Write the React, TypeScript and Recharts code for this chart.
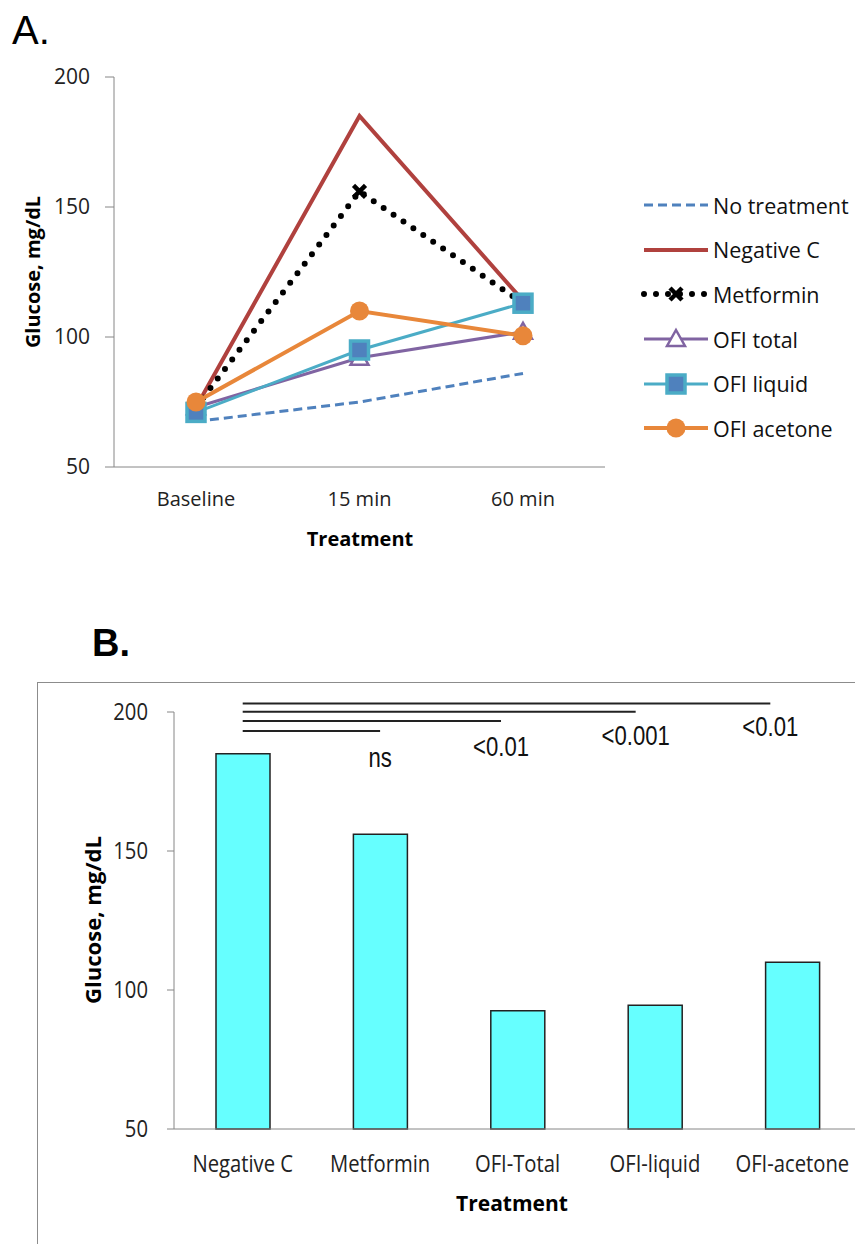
import React from "react";
import {
  Bar,
  BarChart,
  Line,
  LineChart,
  ReferenceDot,
  ReferenceLine,
  XAxis,
  YAxis,
} from "recharts";

// panel A: glucose over time
const timePoints = ["Baseline", "15 min", "60 min"];
const noTreatment = [67.5, 75, 86];
const negativeC = [73, 185, 114];
const metformin = [73, 156, 113];
const ofiTotal = [73, 92, 102];
const ofiLiquid = [71, 95, 113];
const ofiAcetone = [75, 110, 100.5];
const glucoseTicks = [50, 100, 150, 200];

// panel B: glucose at 15 min
const treatments = ["Negative C", "Metformin", "OFI-Total", "OFI-liquid", "OFI-acetone"];
const glucose15 = [185, 156, 92.5, 94.5, 110];

// significance brackets vs Negative C
const sigEnds = [1.0, 1.88, 2.86, 3.84];
const sigLevels = [193.2, 196.8, 200.1, 203.1];
const sigLabels = ["ns", "<0.01", "<0.001", "<0.01"];
const sigLabelY = [183.8, 187.4, 191.7, 194.6];

const AXIS = "#868686";
const SANS = "'Open Sans', 'Noto Sans', sans-serif";
const ARIAL = "'Liberation Sans', Arial, sans-serif";

const lineData = timePoints.map((t, i) => ({
  t,
  none: noTreatment[i],
  neg: negativeC[i],
  met: metformin[i],
  total: ofiTotal[i],
  liquid: ofiLiquid[i],
  acetone: ofiAcetone[i],
}));

const barData = treatments.map((name, i) => ({ idx: i, name, value: glucose15[i] }));

type DotProps = { cx?: number; cy?: number; index?: number };

const XMark = ({ cx = 0, cy = 0, index }: DotProps) => (
  <path
    key={`x-${index}`}
    d={`M${cx - 6},${cy - 6}L${cx + 6},${cy + 6}M${cx + 6},${cy - 6}L${cx - 6},${cy + 6}`}
    stroke="#000"
    strokeWidth={4.5}
  />
);

const Triangle = ({ cx = 0, cy = 0, index }: DotProps) => (
  <polygon
    key={`t-${index}`}
    points={`${cx},${cy - 9} ${cx + 9},${cy + 7} ${cx - 9},${cy + 7}`}
    fill="#fff"
    stroke="#8064A2"
    strokeWidth={2.5}
  />
);

const Square = ({ cx = 0, cy = 0, index }: DotProps) => (
  <rect
    key={`s-${index}`}
    x={cx - 9}
    y={cy - 9}
    width={18}
    height={18}
    fill="#4F81BD"
    stroke="#4BACC6"
    strokeWidth={3.5}
  />
);

const Round = ({ cx = 0, cy = 0, index }: DotProps) => (
  <circle key={`c-${index}`} cx={cx} cy={cy} r={9.5} fill="#E8873A" />
);

type Series = {
  key: string;
  name: string;
  color: string;
  width: number;
  dash?: string;
  cap?: "round" | "butt";
  dot: ((p: DotProps) => React.ReactElement) | false;
};

const series: Series[] = [
  { key: "none", name: "No treatment", color: "#4F81BD", width: 3, dash: "9 5", dot: false },
  { key: "neg", name: "Negative C", color: "#B0413E", width: 4, dot: false },
  { key: "met", name: "Metformin", color: "#000", width: 6, dash: "0 12", cap: "round", dot: XMark },
  { key: "total", name: "OFI total", color: "#8064A2", width: 3, dot: Triangle },
  { key: "liquid", name: "OFI liquid", color: "#4BACC6", width: 3, dot: Square },
  { key: "acetone", name: "OFI acetone", color: "#E8873A", width: 4, dot: Round },
];

// narrow-looking tick text for panel B
const NarrowTick = (props: any) => {
  const { x, y, payload, anchor, dy, fmt } = props;
  const label = fmt ? fmt(payload.value) : payload.value;
  return (
    <text
      transform={`translate(${x},${y}) scale(0.88,1)`}
      textAnchor={anchor}
      dy={dy}
      fontSize={23}
      fontFamily={SANS}
      fill="#222"
    >
      {label}
    </text>
  );
};

function LegendA() {
  return (
    <div style={{ position: "absolute", left: 640, top: 183 }}>
      {series.map((s) => (
        <div key={s.key} style={{ display: "flex", alignItems: "center", height: 44.6 }}>
          <svg width={72} height={24}>
            <line
              x1={4}
              y1={12}
              x2={68}
              y2={12}
              stroke={s.color}
              strokeWidth={s.width}
              strokeDasharray={s.dash}
              strokeLinecap={s.cap ?? "butt"}
            />
            {s.dot ? s.dot({ cx: 36, cy: 12, index: 0 }) : null}
          </svg>
          <span style={{ fontFamily: SANS, fontSize: 21.5, color: "#111", marginLeft: 1 }}>{s.name}</span>
        </div>
      ))}
    </div>
  );
}

export default function App() {
  return (
    <div
      style={{
        position: "absolute",
        left: 0,
        top: 0,
        width: 855,
        height: 1244,
        overflow: "hidden",
        background: "#fff",
      }}
    >
      <div style={{ position: "absolute", left: 12, top: 8, fontFamily: ARIAL, fontSize: 40 }}>A.</div>

      <div style={{ position: "absolute", left: 0, top: 0 }}>
        <LineChart width={620} height={560} data={lineData} margin={{ top: 77, right: 15, bottom: 3, left: 54 }}>
          <XAxis
            dataKey="t"
            height={90}
            padding={{ left: 82, right: 82 }}
            tickLine={false}
            tickSize={0}
            tickMargin={25}
            stroke={AXIS}
            tick={{ fill: "#222", fontSize: 20, fontFamily: SANS }}
          />
          <YAxis
            width={60}
            domain={[50, 200]}
            ticks={glucoseTicks}
            tickSize={9}
            tickMargin={15}
            stroke={AXIS}
            tick={{ fill: "#222", fontSize: 21, fontFamily: SANS }}
          />
          {series.map((s) => (
            <Line
              key={s.key}
              dataKey={s.key}
              name={s.name}
              type="linear"
              stroke={s.color}
              strokeWidth={s.width}
              strokeDasharray={s.dash}
              strokeLinecap={s.cap ?? "butt"}
              dot={s.dot ? (s.dot as any) : false}
              activeDot={false}
              isAnimationActive={false}
            />
          ))}
        </LineChart>
      </div>

      <div
        style={{
          position: "absolute",
          left: 32,
          top: 272,
          transform: "translate(-50%, -50%) rotate(-90deg)",
          fontFamily: SANS,
          fontWeight: 700,
          fontSize: 20,
          whiteSpace: "nowrap",
        }}
      >
        Glucose, mg/dL
      </div>
      <div
        style={{
          position: "absolute",
          left: 360,
          top: 538,
          transform: "translate(-50%, -50%)",
          fontFamily: SANS,
          fontWeight: 700,
          fontSize: 20,
        }}
      >
        Treatment
      </div>

      <LegendA />

      <div style={{ position: "absolute", left: 92, top: 622, fontFamily: ARIAL, fontWeight: 700, fontSize: 38 }}>
        B.
      </div>

      <div
        style={{
          position: "absolute",
          left: 37,
          top: 682,
          width: 900,
          height: 700,
          border: "1.5px solid #8c8c8c",
        }}
      />

      <div style={{ position: "absolute", left: 0, top: 660 }}>
        <BarChart width={880} height={584} data={barData} margin={{ top: 52, right: 19, bottom: 35, left: 114 }}>
          <XAxis
            dataKey="idx"
            type="number"
            domain={[-0.5, 4.5]}
            ticks={[0, 1, 2, 3, 4]}
            height={80}
            tickLine={false}
            tickSize={0}
            tickMargin={27}
            stroke={AXIS}
            tick={<NarrowTick anchor="middle" dy="0.71em" fmt={(i: number) => treatments[i]} />}
          />
          <YAxis
            width={60}
            domain={[50, 200]}
            ticks={glucoseTicks}
            tickSize={7}
            tickMargin={19}
            stroke={AXIS}
            tick={<NarrowTick anchor="end" dy="0.35em" />}
          />
          <Bar dataKey="value" barSize={54} fill="#66FFFF" stroke="#222" strokeWidth={1.5} isAnimationActive={false} />
          {sigEnds.map((end, i) => (
            <ReferenceLine
              key={`sig-${i}`}
              segment={[
                { x: 0, y: sigLevels[i] },
                { x: end, y: sigLevels[i] },
              ]}
              stroke="#222"
              strokeWidth={2}
              ifOverflow="visible"
            />
          ))}
          {sigLabels.map((lab, i) => (
            <ReferenceDot
              key={`lab-${i}`}
              x={sigEnds[i]}
              y={sigLabelY[i]}
              r={0}
              stroke="none"
              fill="none"
              ifOverflow="visible"
              label={(p: any) => {
                const vb = p.viewBox || {};
                const cx = (vb.x ?? 0) + (vb.width ?? 0) / 2;
                const cy = (vb.y ?? 0) + (vb.height ?? 0) / 2;
                return (
                  <text
                    transform={`translate(${cx},${cy}) scale(0.82,1)`}
                    textAnchor="middle"
                    dy="0.35em"
                    fontSize={27}
                    fontFamily={ARIAL}
                    fill="#111"
                  >
                    {lab}
                  </text>
                );
              }}
            />
          ))}
        </BarChart>
      </div>

      <div
        style={{
          position: "absolute",
          left: 93,
          top: 920,
          transform: "translate(-50%, -50%) rotate(-90deg) scaleX(1.05)",
          fontFamily: SANS,
          fontWeight: 700,
          fontSize: 21,
          whiteSpace: "nowrap",
        }}
      >
        Glucose, mg/dL
      </div>
      <div
        style={{
          position: "absolute",
          left: 512,
          top: 1203,
          transform: "translate(-50%, -50%)",
          fontFamily: SANS,
          fontWeight: 700,
          fontSize: 21,
        }}
      >
        Treatment
      </div>
    </div>
  );
}
